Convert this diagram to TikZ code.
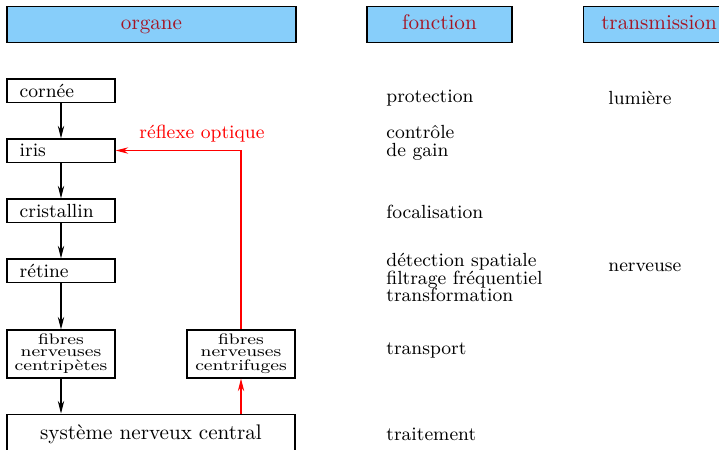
\documentclass[tikz,border=0pt]{standalone}
\usetikzlibrary{arrows.meta}
\definecolor{headfill}{RGB}{135,206,250}
\definecolor{headtext}{RGB}{165,20,35}
\newcommand\fibretext[1]{\scalebox{1}[0.8]{\fontsize{9}{7.3}\selectfont\begin{tabular}{@{}c@{}}#1\end{tabular}}}
\newcommand\funcfont{\fontsize{9}{8.3}\selectfont\lineskiplimit=-20pt\relax}
\begin{document}
\begin{tikzpicture}[x=0.473pt,y=-0.473pt,
  head/.style={draw,line width=0.5pt,fill=headfill,text=headtext,minimum height=16.6pt,inner sep=0pt,text height=6.9pt,text depth=1.9pt,font=\fontsize{10}{12}\selectfont},
  organbox/.style={draw,line width=0.5pt,minimum height=10.9pt,inner xsep=6pt,inner ysep=0pt,text width=39.1pt,align=left,font=\fontsize{9}{10}\selectfont},
  fibrebox/.style={draw,line width=0.5pt,minimum width=51.1pt,minimum height=22.7pt,inner sep=0pt,align=center},
  func/.style={anchor=west,inner sep=0pt,align=left,font=\funcfont},
  arr/.style={line width=0.5pt,-{Stealth[length=6pt,width=3pt,inset=2pt]}},
  redarr/.style={arr,red}]
\useasboundingbox (0,0) rectangle (719,449);
% headers
\node[head,minimum width=136.7pt] (horg) at (151.5,24.5) {organe};
\node[head,minimum width=68.6pt] (hfon) at (439.5,24.5) {fonction};
\node[head,minimum width=71pt] (htra) at (659,24.5) {transmission};
% organ boxes
\node[organbox] (cornee) at (61,90.5) {cornée};
\node[organbox] (iris) at (61,150.5) {iris};
\node[organbox] (cristallin) at (61,210.5) {cristallin};
\node[organbox] (retine) at (61,270.5) {rétine};
\node[fibrebox] (centripetes) at (61,354) {\fibretext{fibres\\nerveuses\\centripètes}};
\node[fibrebox] (centrifuges) at (241,354) {\fibretext{fibres\\nerveuses\\centrifuges}};
\node[draw,line width=0.5pt,minimum width=136.2pt,minimum height=18.9pt,inner sep=0pt,font=\fontsize{10}{12}\selectfont] (snc) at (151,434) {système nerveux central};
% arrows
\draw[arr] (cornee) -- (iris);
\draw[arr] (iris) -- (cristallin);
\draw[arr] (cristallin) -- (retine);
\draw[arr] (retine) -- (centripetes);
\draw[arr] (centripetes) -- (centripetes |- snc.north);
\draw[redarr] (centrifuges |- snc.north) -- (centrifuges.south);
\draw[redarr] (centrifuges.north) |- (iris.east);
\node[red,inner sep=0pt,font=\fontsize{9}{10}\selectfont] (reflexe) at (202,134) {réflexe optique};
% functions
\node[func] (protection) at (386,98) {protection};
\node[func] (gain) at (386,143) {contrôle\\de gain};
\node[func] (focal) at (386,212) {focalisation};
\node[func] (detect) at (386,277.5) {détection spatiale\\filtrage fréquentiel\\transformation};
\node[func] (transport) at (386,350) {transport};
\node[func] (traitement) at (386,434) {traitement};
% transmission
\node[func] (lumiere) at (608,98) {lumière};
\node[func] (nerveuse) at (608,267) {nerveuse};
\end{tikzpicture}
\end{document}
